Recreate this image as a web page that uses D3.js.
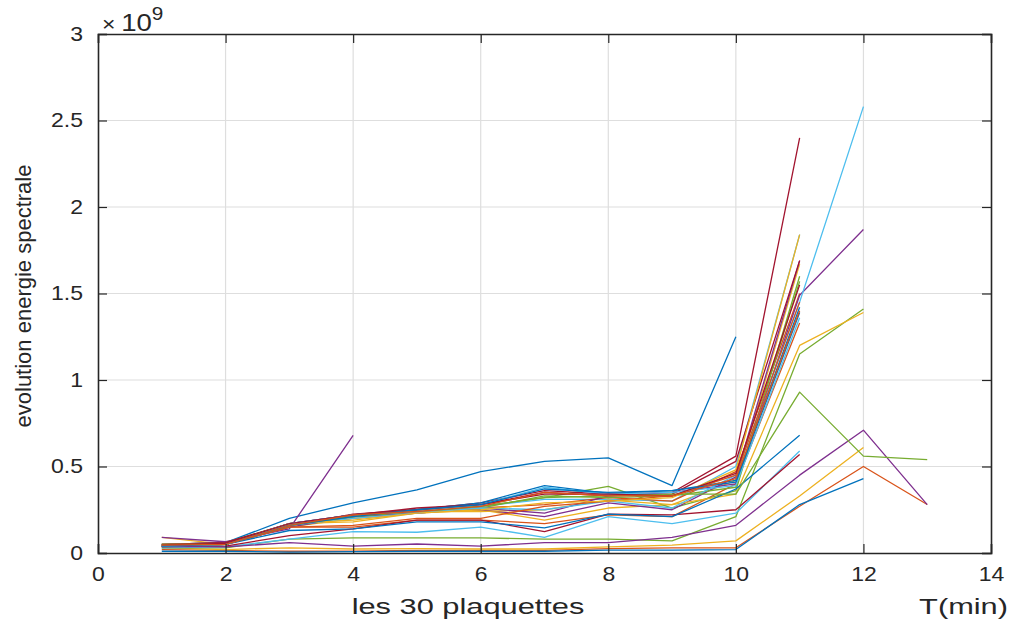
<!DOCTYPE html>
<html>
<head>
<meta charset="utf-8">
<script src="https://cdn.jsdelivr.net/npm/d3@7"></script>
<style>
  html, body { margin: 0; padding: 0; background: #fff; }
  svg { display: block; }
  text { font-family: "Liberation Sans", Arial, Helvetica, sans-serif; fill: #262626; }
</style>
</head>
<body>
<svg id="chart" width="1014" height="625"></svg>
<script>
// Spectral energy (x 1e9) per measurement time T (min), one array per plaquette.
const p01 = [0.05, 0.06, 0.20, 0.29, 0.365, 0.47, 0.53, 0.55, 0.39, 1.25];
const p02 = [0.04, 0.05, 0.15, 0.15, 0.19, 0.19, 0.17, 0.22, 0.21, 0.40, 1.33];
const p03 = [0.09, 0.05, 0.17, 0.18, 0.23, 0.25, 0.19, 0.26, 0.28, 0.42, 1.67];
const p04 = [0.09, 0.065, 0.14, 0.68];
const p05 = [0.05, 0.06, 0.17, 0.21, 0.24, 0.27, 0.32, 0.385, 0.26, 0.36, 1.60];
const p06 = [0.04, 0.05, 0.16, 0.21, 0.24, 0.27, 0.31, 0.31, 0.30, 0.50, 1.84];
const p07 = [0.04, 0.05, 0.16, 0.225, 0.25, 0.29, 0.36, 0.34, 0.35, 0.56, 2.40];
const p08 = [0.04, 0.05, 0.17, 0.22, 0.25, 0.29, 0.39, 0.345, 0.36, 0.42, 1.42];
const p09 = [0.02, 0.015, 0.01, 0.01, 0.015, 0.015, 0.015, 0.025, 0.03, 0.03, 0.27, 0.50, 0.28];
const p10 = [0.03, 0.02, 0.03, 0.023, 0.025, 0.023, 0.023, 0.035, 0.045, 0.07, 0.33, 0.61];
const p11 = [0.05, 0.06, 0.16, 0.21, 0.24, 0.25, 0.21, 0.29, 0.25, 0.44, 1.69];
const p12 = [0.03, 0.03, 0.08, 0.087, 0.088, 0.087, 0.08, 0.08, 0.07, 0.21, 1.15, 1.41];
const p13 = [0.03, 0.035, 0.08, 0.123, 0.12, 0.15, 0.09, 0.21, 0.17, 0.23, 0.59];
const p14 = [0.05, 0.06, 0.17, 0.22, 0.26, 0.28, 0.35, 0.33, 0.34, 0.53, 1.69];
const p15 = [0.01, 0.01, 0.005, 0.008, 0.01, 0.01, 0.01, 0.017, 0.017, 0.02, 0.28, 0.43];
const p16 = [0.04, 0.05, 0.16, 0.20, 0.23, 0.26, 0.28, 0.32, 0.30, 0.47, 1.50];
const p17 = [0.05, 0.05, 0.15, 0.20, 0.24, 0.24, 0.25, 0.306, 0.28, 0.34, 1.20, 1.39];
const p18 = [0.04, 0.05, 0.15, 0.21, 0.23, 0.26, 0.23, 0.33, 0.35, 0.40, 1.49, 1.87];
const p19 = [0.04, 0.05, 0.16, 0.21, 0.24, 0.26, 0.33, 0.32, 0.33, 0.38, 1.57];
const p20 = [0.04, 0.05, 0.16, 0.20, 0.23, 0.26, 0.25, 0.30, 0.26, 0.45, 1.45, 2.58];
const p21 = [0.035, 0.04, 0.10, 0.14, 0.19, 0.19, 0.123, 0.225, 0.22, 0.25, 0.57];
const p22 = [0.04, 0.05, 0.13, 0.14, 0.18, 0.18, 0.145, 0.225, 0.21, 0.37, 0.68];
const p23 = [0.04, 0.05, 0.15, 0.16, 0.20, 0.20, 0.27, 0.30, 0.33, 0.45, 1.45];
const p24 = [0.04, 0.05, 0.17, 0.19, 0.23, 0.25, 0.29, 0.30, 0.32, 0.48, 1.84];
const p25 = [0.04, 0.035, 0.06, 0.04, 0.052, 0.04, 0.06, 0.06, 0.09, 0.16, 0.45, 0.71, 0.28];
const p26 = [0.05, 0.05, 0.16, 0.21, 0.25, 0.27, 0.32, 0.33, 0.34, 0.34, 0.93, 0.56, 0.54];
const p27 = [0.04, 0.05, 0.17, 0.22, 0.24, 0.28, 0.38, 0.34, 0.35, 0.39, 1.36];
const p28 = [0.045, 0.055, 0.17, 0.22, 0.25, 0.28, 0.34, 0.34, 0.33, 0.46, 1.55];
const p29 = [0.04, 0.05, 0.16, 0.21, 0.25, 0.28, 0.37, 0.35, 0.36, 0.41, 1.39];
const p30 = [0.045, 0.05, 0.16, 0.22, 0.24, 0.27, 0.35, 0.33, 0.33, 0.43, 1.40];

const plaquettes = [p01, p02, p03, p04, p05, p06, p07, p08, p09, p10,
                    p11, p12, p13, p14, p15, p16, p17, p18, p19, p20,
                    p21, p22, p23, p24, p25, p26, p27, p28, p29, p30];

const xTicks = [0, 2, 4, 6, 8, 10, 12, 14];
const yTicks = [0, 0.5, 1, 1.5, 2, 2.5, 3];
const yTickLabels = ["0", "0.5", "1", "1.5", "2", "2.5", "3"];
const xLabel = "les 30 plaquettes";
const xUnitLabel = "T(min)";
const yLabel = "evolution energie spectrale";

// Default line colour order
const lineColors = ["#0072BD", "#D95319", "#EDB120", "#7E2F8E", "#77AC30", "#4DBEEE", "#A2142F"];

const svg = d3.select("#chart");
const box = { left: 98, right: 991, top: 34, bottom: 553 };

const x = d3.scaleLinear().domain([0, 14]).range([box.left, box.right]);
const y = d3.scaleLinear().domain([0, 3]).range([box.bottom, box.top]);
const color = d3.scaleOrdinal().domain(d3.range(lineColors.length)).range(lineColors);

// grid
const grid = svg.append("g").attr("stroke", "#dedede").attr("stroke-width", 1.2);
grid.selectAll("line.gx").data(xTicks.slice(1, -1)).join("line")
  .attr("x1", d => x(d)).attr("x2", d => x(d))
  .attr("y1", box.top).attr("y2", box.bottom);
grid.selectAll("line.gy").data(yTicks.slice(1, -1)).join("line")
  .attr("x1", box.left).attr("x2", box.right)
  .attr("y1", d => y(d)).attr("y2", d => y(d));

// series
const line = d3.line().x((d, i) => x(i + 1)).y(d => y(d));
svg.append("g").attr("fill", "none").attr("stroke-width", 1.3).attr("stroke-linejoin", "round")
  .selectAll("path").data(plaquettes).join("path")
  .attr("stroke", (d, i) => color(i % lineColors.length))
  .attr("d", line);

// axes (box with inward ticks on all sides)
const tickLen = 9;
const axisColor = "#262626";
const wide = 1.15; // horizontal stretch of tick labels
const bottomAxis = d3.axisBottom(x).tickValues(xTicks).tickSize(-tickLen).tickPadding(14).tickFormat(d3.format("d"));
const topAxis = d3.axisTop(x).tickValues(xTicks).tickSize(-tickLen).tickFormat("");
const leftAxis = d3.axisLeft(y).tickValues(yTicks).tickSize(-tickLen).tickPadding(15)
  .tickFormat((d, i) => yTickLabels[i]);
const rightAxis = d3.axisRight(y).tickValues(yTicks).tickSize(-tickLen).tickFormat("");

function styleAxis(g) {
  g.select(".domain").attr("stroke", axisColor).attr("stroke-width", 1.6);
  g.selectAll(".tick line").attr("stroke", axisColor).attr("stroke-width", 1.2);
  g.selectAll(".tick text").attr("fill", "#262626").style("font-size", "20px")
    .style("font-family", '"Liberation Sans", Arial, sans-serif');
}

svg.append("g").attr("transform", `translate(0,${box.bottom})`).call(bottomAxis).call(styleAxis)
  .selectAll(".tick text").attr("transform", `scale(${wide},1)`).attr("x", 0);
svg.append("g").attr("transform", `translate(0,${box.top})`).call(topAxis).call(styleAxis);
const yAxisG = svg.append("g").attr("transform", `translate(${box.left},0)`).call(leftAxis).call(styleAxis);
yAxisG.selectAll(".tick text").each(function() {
  const t = d3.select(this);
  const px = +t.attr("x");
  t.attr("x", px / wide).attr("transform", `scale(${wide},1)`);
});
svg.append("g").attr("transform", `translate(${box.right},0)`).call(rightAxis).call(styleAxis);

// exponent marker
const expo = svg.append("text").attr("transform", "translate(102,31) scale(1.15,1)").style("font-size", "24px");
expo.append("tspan").style("font-size", "20px").text("\u00D7");
expo.append("tspan").attr("dx", 5).text("10");
expo.append("tspan").attr("dy", -11).style("font-size", "18px").text("9");

// axis titles
svg.append("text").attr("transform", "translate(468,614) scale(1.4,1)").attr("text-anchor", "middle")
  .style("font-size", "22px").text(xLabel);
svg.append("text").attr("transform", "translate(1008,614) scale(1.4,1)").attr("text-anchor", "end")
  .style("font-size", "22px").text(xUnitLabel);
svg.append("text").attr("transform", "translate(31,296) rotate(-90)").attr("text-anchor", "middle")
  .style("font-size", "22px").text(yLabel);
</script>
</body>
</html>
